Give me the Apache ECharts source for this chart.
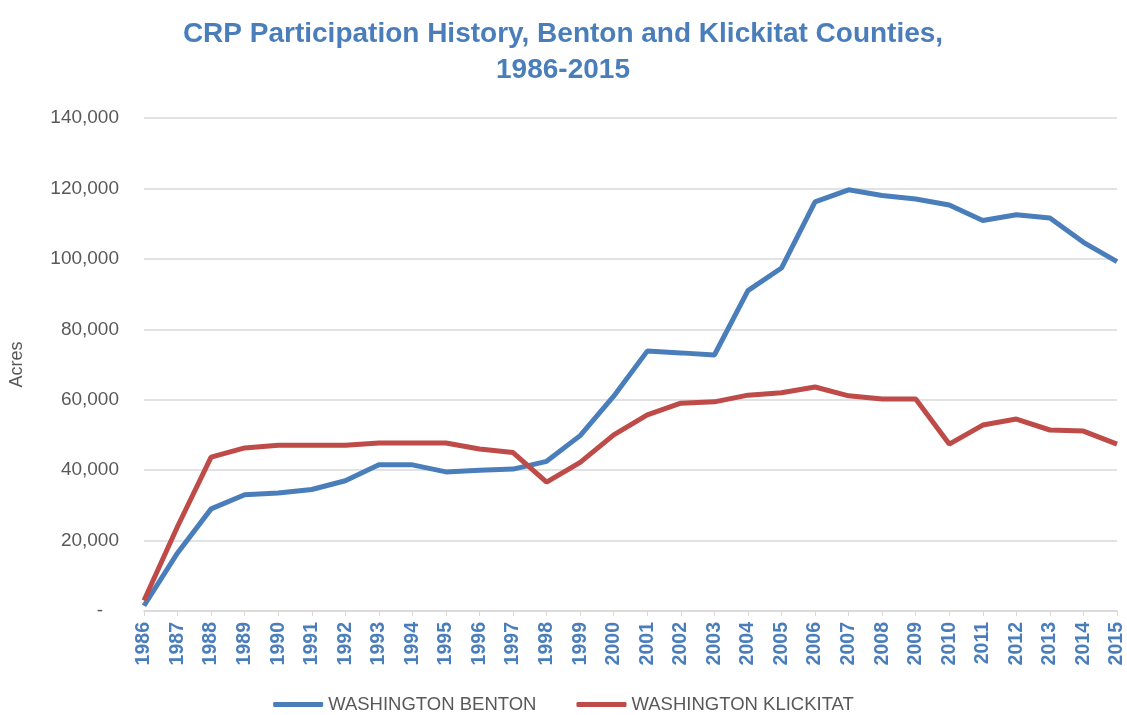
<!DOCTYPE html>
<html>
<head>
<meta charset="utf-8">
<script src="https://cdn.jsdelivr.net/npm/echarts@6/dist/echarts.min.js"></script>
<style>
  html, body { margin: 0; padding: 0; background: #fff; }
  #chart { width: 1127px; height: 715px; }
</style>
</head>
<body>
<div id="chart"></div>
<script>
// years on the x axis
var years = ['1986','1987','1988','1989','1990','1991','1992','1993','1994','1995',
             '1996','1997','1998','1999','2000','2001','2002','2003','2004','2005',
             '2006','2007','2008','2009','2010','2011','2012','2013','2014','2015'];

// acres enrolled
var benton = [1500, 16500, 29000, 33000, 33500, 34500, 37000, 41500, 41500, 39500,
              40000, 40300, 42500, 49800, 61000, 73800, 73300, 72700, 91000, 97400,
              116200, 119600, 118000, 117000, 115300, 110900, 112500, 111600, 104700, 99200];
var klickitat = [3000, 24000, 43700, 46300, 47100, 47100, 47100, 47700, 47700, 47700,
                 46000, 45000, 36600, 42200, 50000, 55700, 59000, 59400, 61300, 62000,
                 63600, 61100, 60200, 60200, 47400, 52800, 54500, 51400, 51100, 47400];

var font = '"Liberation Sans", sans-serif';
var chart = echarts.init(document.getElementById('chart'));
chart.setOption({
    animation: false,
    color: ['#4a7ebb', '#be4b48'],
    title: {
        text: 'CRP Participation History, Benton and Klickitat Counties,\n1986-2015',
        left: 558,
        textAlign: 'center',
        top: 11,
        textStyle: {
            color: '#4a7ebb',
            fontFamily: font,
            fontWeight: 'bold',
            fontSize: 28,
            lineHeight: 36
        }
    },
    grid: { left: 143, right: 10, top: 118, bottom: 104 },
    legend: {
        top: 690,
        left: 'center',
        icon: 'roundRect',
        itemWidth: 50,
        itemHeight: 5,
        itemGap: 40,
        textStyle: { color: '#595959', fontSize: 18.5, fontFamily: font },
        data: ['WASHINGTON BENTON', 'WASHINGTON KLICKITAT']
    },
    xAxis: {
        type: 'category',
        data: years,
        boundaryGap: false,
        axisLine: { lineStyle: { color: '#d9d9d9', width: 1.5 } },
        axisTick: { show: true, length: 5, lineStyle: { color: '#d9d9d9' } },
        axisLabel: {
            interval: 0,
            rotate: 90,
            margin: 11,
            color: '#4a7ebb',
            fontWeight: 'bold',
            fontSize: 19.5,
            fontFamily: font
        }
    },
    yAxis: {
        type: 'value',
        min: 0,
        max: 140000,
        interval: 20000,
        name: 'Acres',
        nameLocation: 'middle',
        nameGap: 118,
        nameTextStyle: { color: '#595959', fontSize: 18, fontFamily: font },
        axisLine: { show: false },
        axisTick: { show: false },
        splitLine: { lineStyle: { color: '#d9d9d9', width: 1.5 } },
        axisLabel: {
            margin: 25,
            color: '#595959',
            fontSize: 19,
            fontFamily: font,
            formatter: function (v) {
                return v === 0 ? '-   ' : v.toLocaleString('en-US');
            }
        }
    },
    series: [
        {
            name: 'WASHINGTON BENTON',
            type: 'line',
            data: benton,
            symbol: 'none',
            lineStyle: { width: 5 }
        },
        {
            name: 'WASHINGTON KLICKITAT',
            type: 'line',
            data: klickitat,
            symbol: 'none',
            lineStyle: { width: 5 }
        }
    ]
});
</script>
</body>
</html>
